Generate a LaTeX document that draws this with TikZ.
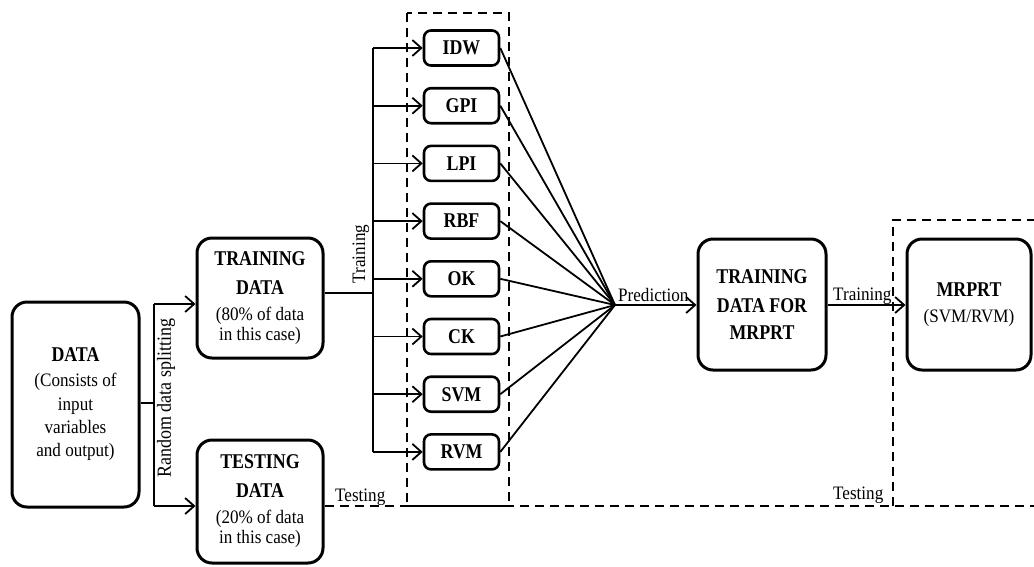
\documentclass[tikz,border=0pt]{standalone}
\usepackage{fontspec}
\setmainfont{Liberation Serif}[FakeStretch=0.9]
\newfontfamily\hdfont{Liberation Serif}[FakeStretch=0.85]
\usetikzlibrary{arrows.meta}

\newcommand\hdtext{\hdfont\bfseries\fontsize{21}{21}\selectfont}
\newcommand\rgtext{\fontsize{19}{21}\selectfont}

\begin{document}
\begin{tikzpicture}[x=1pt,y=-1pt,
  bigbox/.style={draw, line width=3pt, rounded corners=15pt, align=center, inner sep=0pt, font=\rgtext},
  modelbox/.style={draw, line width=2.6pt, rounded corners=7pt, minimum width=75pt,
    minimum height=35pt, inner sep=0pt, font=\hdtext},
  conn/.style={line width=1.8pt},
  arr/.style={conn, -{Straight Barb[length=9pt,width=16pt,line width=1.8pt]}},
  dashbox/.style={line width=2.4pt, dash pattern=on 9pt off 6pt},
  lbl/.style={font=\rgtext, inner sep=0pt}]

\useasboundingbox (0,0) rectangle (1034,566);

% input data and the random split
\node[bigbox, minimum width=127pt, minimum height=205pt] (data) at (75.5,404.5)
  {{\hdtext DATA}\\[4pt](Consists of\\[3pt]input\\[2pt]variables\\[2pt]and output)};
\node[bigbox, minimum width=126pt, minimum height=120pt] (td) at (260,298)
  {{\hdtext TRAINING}\\[8pt]{\hdtext DATA}\\[5pt](80\% of data\\[-1pt]in this case)};
\node[bigbox, minimum width=126pt, minimum height=123pt] (tsd) at (260,501.5)
  {{\hdtext TESTING}\\[8pt]{\hdtext DATA}\\[5pt](20\% of data\\[-1pt]in this case)};

\coordinate (s0) at (154,403);
\coordinate (sTop) at (154,304);
\coordinate (sBot) at (154,506);
\draw[conn] (s0 -| data.east) -- (s0);
\draw[conn] (sTop) -- (sBot);
\draw[arr] (sTop) -- (sTop -| td.west);
\draw[arr] (sBot) -- (sBot -| tsd.west);
\node[lbl, rotate=90, font=\fontsize{20}{22}\selectfont] (split) at (166,398) {Random data splitting};

% training bus feeding the individual models
\coordinate (tsplit) at (373,293);
\coordinate (busTop) at (373,48);
\coordinate (busBot) at (373,452);
\draw[conn] (tsplit -| td.east) -- (tsplit);
\draw[conn] (busTop) -- (busBot);
\node[lbl, rotate=90] (trainlbl) at (361,254) {Training};

\draw[dashbox] (407,13) rectangle (509,506);

\coordinate (pred) at (615,305);
\foreach \name [count=\i from 0] in {IDW,GPI,LPI,RBF,OK,CK,SVM,RVM} {
  \node[modelbox] (m\i) at (461.5,{48+57.7*\i}) {\name};
  \draw[arr] (m\i -| busTop) -- (m\i.west);
  \draw[conn] (m\i.east) -- (pred);
}
\node[lbl, anchor=base west] (predlbl) at (618,301) {Prediction};

% second stage
\node[bigbox, minimum width=128pt, minimum height=131pt] (tdm) at (762,304.5)
  {{\hdtext TRAINING}\\[8pt]{\hdtext DATA FOR}\\[6pt]{\hdtext MRPRT}};
\node[bigbox, minimum width=124pt, minimum height=131pt] (mrprt) at (969,304.5)
  {{\hdtext MRPRT}\\[5pt](SVM/RVM)};

\draw[arr] (pred) -- (pred -| tdm.west);
\coordinate (t2) at (830,305);
\draw[arr] (t2 -| tdm.east) -- (t2 -| mrprt.west);
\node[lbl, anchor=base west] (trainlbl2) at (833,300) {Training};

% testing path
\draw[dashbox] (1036,220) -| (893,506);
\coordinate (tline) at (1036,506);
\draw[dashbox] (tline -| tsd.east) -- (tline);
\node[lbl, anchor=base west] (testlbl1) at (335,501) {Testing};
\node[lbl, anchor=base west] (testlbl2) at (833,499) {Testing};
\end{tikzpicture}
\end{document}
